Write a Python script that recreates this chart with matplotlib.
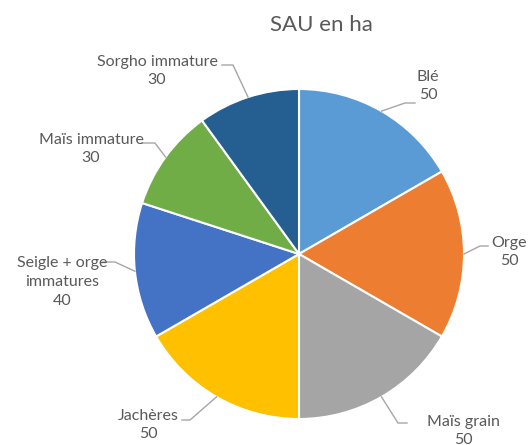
import numpy as np
import matplotlib
matplotlib.use("Agg")
import matplotlib.pyplot as plt

plt.rcParams['font.family'] = ['Lato', 'DejaVu Sans']

# data
categories = ['Blé', 'Orge', 'Maïs grain', 'Jachères',
              'Seigle + orge\nimmatures', 'Maïs immature', 'Sorgho immature']
surfaces = [50, 50, 50, 50, 40, 30, 30]
colors = ['#5B9BD5', '#ED7D31', '#A5A5A5', '#FFC000',
          '#4472C4', '#70AD47', '#255E91']

# label placement (pixels in the 528x445 picture), elbow of leader line and text centre
centre_px = (299, 254)
radius_px = 165
elbow_px = [(405, 103), (480, 246), (398, 423), (190, 420),
            (115, 262), (155, 143), (233, 65)]
elbow_end_px = [(415, 103), (488, 246), (407, 423), (182, 420),
                (103, 262), (142, 143), (222, 65)]
text_px = [(428, 86), (509, 252), (463, 431), (148, 425),
           (62, 282), (91, 149), (157, 71)]


def to_data(p):
    return ((p[0] - centre_px[0]) / radius_px, (centre_px[1] - p[1]) / radius_px)


W, H = 528, 445
fig = plt.figure(figsize=(W / 100, H / 100), dpi=100)
ax = fig.add_axes([(centre_px[0] - radius_px) / W, (H - centre_px[1] - radius_px) / H,
                   2 * radius_px / W, 2 * radius_px / H])

wedges, _ = ax.pie(surfaces, colors=colors, startangle=90, counterclock=False,
                   radius=1, wedgeprops=dict(edgecolor='white', linewidth=1.5))
ax.set_xlim(-1, 1)
ax.set_ylim(-1, 1)
ax.set_aspect('equal')
ax.axis('off')

line_col = '#A6A6A6'
text_col = '#595959'
for w, cat, val, e1, e2, t in zip(wedges, categories, surfaces, elbow_px, elbow_end_px, text_px):
    mid = np.deg2rad((w.theta1 + w.theta2) / 2)
    x0, y0 = np.cos(mid), np.sin(mid)
    x1, y1 = to_data(e1)
    x2, y2 = to_data(e2)
    ax.plot([x0, x1, x2], [y0, y1, y2], color=line_col, lw=1, clip_on=False)
    tx, ty = to_data(t)
    ax.text(tx, ty, f'{cat}\n{val}', ha='center', va='center', fontsize=11.5,
            color=text_col, linespacing=1.45, clip_on=False)

fig.text(321 / W, 1 - 25 / H, 'SAU en ha', ha='center', va='center',
         fontsize=16, color=text_col)

fig.savefig('out.png', dpi=100)
